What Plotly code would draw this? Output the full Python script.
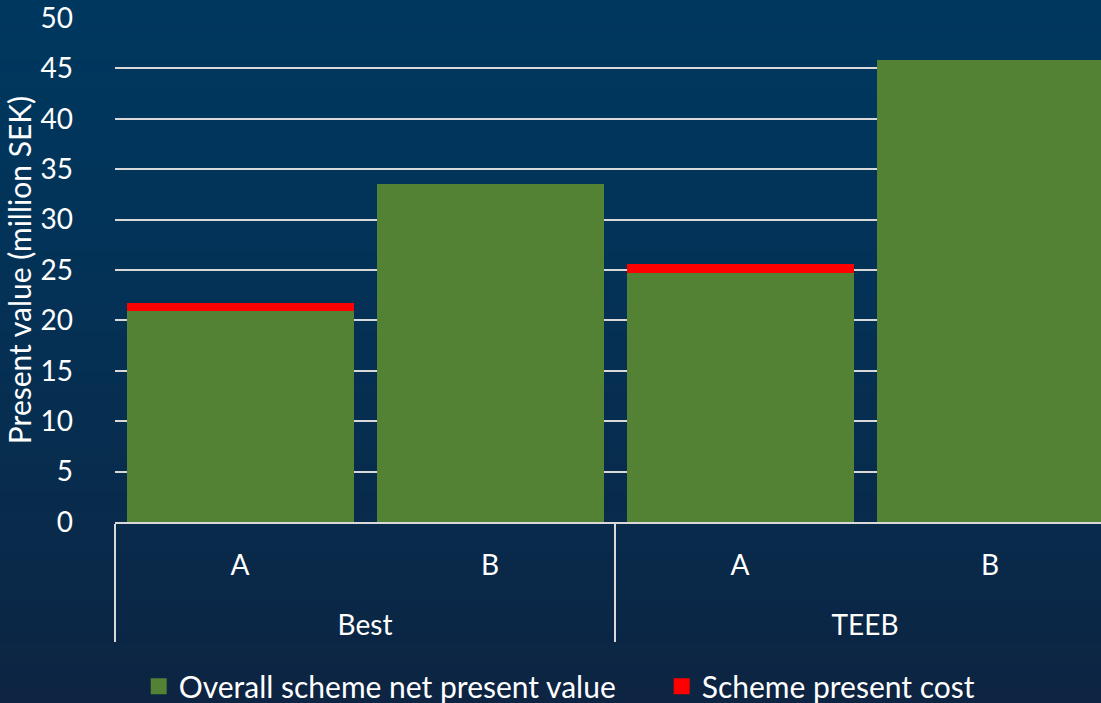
import plotly.graph_objects as go

# --- data ---
groups = ["Best", "Best", "TEEB", "TEEB"]
schemes = ["A", "B", "A", "B"]
net_present_value = [20.9, 33.5, 24.7, 45.8]
present_cost = [0.8, 0.0, 0.9, 0.0]
y_ticks = [0, 5, 10, 15, 20, 25, 30, 35, 40, 45, 50]

GREEN = "#548235"
RED = "#FF0000"
FONT = "Lato"
W, H = 1101, 703
M_L, M_R, M_T, M_B = 115, 0, 18, 181

# pad the first-level labels with an empty line so the group labels sit lower
scheme_labels = [s + "<br><span style='font-size:52px'>\u00a0</span>" for s in schemes]

fig = go.Figure()
fig.add_trace(go.Bar(x=[groups, scheme_labels], y=net_present_value, marker_color=GREEN,
                     marker_line_width=0, showlegend=False))
fig.add_trace(go.Bar(x=[groups, scheme_labels], y=present_cost, marker_color=RED,
                     marker_line_width=0, showlegend=False))

# legend-only entries (one legend each) so swatches and spacing can match
fig.add_trace(go.Scatter(x=[None], y=[None], mode="markers", name="Overall scheme net present value",
                         marker=dict(symbol="square", size=20, color=GREEN), legend="legend"))
fig.add_trace(go.Scatter(x=[None], y=[None], mode="markers", name="Scheme present cost",
                         marker=dict(symbol="square", size=20, color=RED), legend="legend2"))

# vertical background gradient built from thin strips
top = (0, 55, 94)
bot = (13, 36, 66)
n = 70
pw = W - M_L - M_R
ph = H - M_T - M_B
y_lo = -M_B / ph
y_hi = 1 + M_T / ph
shapes = []
for i in range(n):
    t = i / (n - 1)
    c = tuple(round(top[k] + (bot[k] - top[k]) * t ** 1.4) for k in range(3))
    y1 = y_hi - (y_hi - y_lo) * i / n
    y0 = y_hi - (y_hi - y_lo) * (i + 1) / n
    shapes.append(dict(type="rect", xref="paper", yref="paper", x0=-M_L / pw - 0.01, x1=1.01,
                       y0=y0 - 0.002, y1=y1, fillcolor="rgb(%d,%d,%d)" % c,
                       line_width=0, layer="below"))

legend_style = dict(orientation="h", xref="container", yref="container",
                    xanchor="left", y=0.024, yanchor="middle",
                    font=dict(size=30, color="white"), itemwidth=30,
                    bgcolor="rgba(0,0,0,0)")

fig.update_layout(
    width=W, height=H,
    margin=dict(l=M_L, r=M_R, t=M_T, b=M_B),
    barmode="stack",
    bargap=0.092,
    paper_bgcolor="rgb(6,45,80)",
    plot_bgcolor="rgba(0,0,0,0)",
    font=dict(family=FONT, size=28, color="white"),
    shapes=shapes,
    legend=dict(x=0.126, **legend_style),
    legend2=dict(x=0.601, **legend_style),
    xaxis=dict(
        type="multicategory",
        range=[-0.5, 3.444],
        showline=True, linecolor="#D9D9D9", linewidth=2,
        showdividers=True, dividercolor="#D9D9D9", dividerwidth=2,
        ticklabelstandoff=17,
        tickfont=dict(size=28, color="white"),
        showgrid=False,
    ),
    yaxis=dict(
        range=[0, 50],
        tickvals=y_ticks,
        showgrid=True, gridcolor="#D9D9D9", gridwidth=2,
        zeroline=False, showline=False,
        ticklabelstandoff=41,
        ticklabeloverflow="allow",
        tickfont=dict(size=28, color="white"),
        title=dict(text="Present value (million SEK)", font=dict(size=30, color="white"), standoff=0),
    ),
)

fig.write_html("out.html", config={"displayModeBar": False},
               post_script="document.body.style.margin='0';")
